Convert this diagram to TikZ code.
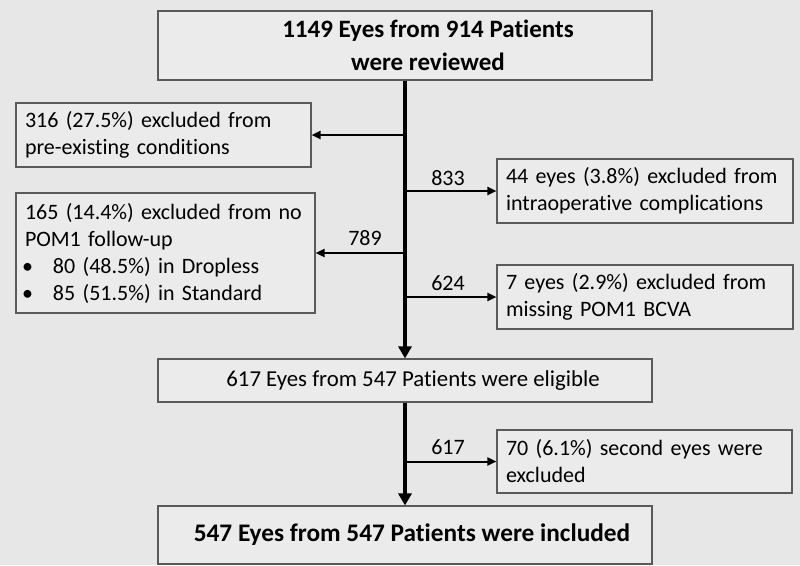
\documentclass[tikz,border=0pt]{standalone}
\usepackage{fontspec}
\setmainfont{Carlito}[Ligatures=NoCommon]
\usetikzlibrary{arrows.meta}
\definecolor{bgc}{RGB}{231,231,231}
\definecolor{boxc}{RGB}{235,235,235}
\definecolor{edgec}{RGB}{90,90,90}
\newcommand{\bul}[1]{\hspace*{-3pt}\makebox[31pt][l]{\textbullet}#1}
\tikzset{
  box/.style={draw=edgec, line width=1.1pt, fill=boxc, rectangle, inner ysep=0pt, inner xsep=9pt},
  lbox/.style={box, align=left, font=\fontsize{22}{27}\selectfont},
  cbox/.style={box, align=center},
  trunk/.style={line width=4pt, -{Triangle[width=13pt,length=12pt]}},
  branch/.style={line width=2pt, -{Triangle[width=8pt,length=9pt]}},
  num/.style={font=\fontsize{22}{24}\selectfont, inner sep=0pt},
}
\begin{document}
\begin{tikzpicture}[x=1pt,y=-1pt]
\fill[bgc] (0,0) rectangle (800,565);
\useasboundingbox (0,0) rectangle (800,565);
% boxes
\node[cbox, minimum width=494pt, minimum height=69pt, font=\bfseries\fontsize{25}{33}\selectfont] (top) at (405,45.5) {\hspace*{46pt}1149 Eyes from 914 Patients\\\hspace*{46pt}were reviewed};
\node[lbox, minimum width=295pt, minimum height=64pt, text width=277pt] (b316) at (163.5,135) {\mbox{316 (27.5\%) excluded from}\\\mbox{pre-existing conditions}};
\node[lbox, minimum width=299pt, minimum height=120pt, text width=281pt] (b165) at (165.5,253) {\mbox{165 (14.4\%) excluded from no}\\\mbox{POM1 follow-up}\\\bul{80 (48.5\%) in Dropless}\\\bul{85 (51.5\%) in Standard}};
\node[lbox, minimum width=296pt, minimum height=64pt, text width=278pt] (b44) at (645,191) {\mbox{44 eyes (3.8\%) excluded from}\\\mbox{intraoperative complications}};
\node[lbox, minimum width=296pt, minimum height=64pt, text width=278pt] (b7) at (645,297) {\mbox{7 eyes (2.9\%) excluded from}\\\mbox{missing POM1 BCVA}};
\node[cbox, minimum width=494pt, minimum height=43pt, font=\fontsize{22.8}{24}\selectfont] (b617) at (405,380.5) {\hspace*{16pt}617 Eyes from 547 Patients were eligible};
\node[lbox, minimum width=295pt, minimum height=63pt, text width=277pt] (b70) at (644.5,461.5) {\mbox{70 (6.1\%) second eyes were}\\\mbox{excluded}};
\node[cbox, minimum width=494pt, minimum height=58pt, font=\bfseries\fontsize{25.3}{28}\selectfont] (bot) at (405,535) {\hspace*{14pt}547 Eyes from 547 Patients were included};
% trunk
\draw[trunk] (top.south) -- (b617.north);
\draw[trunk] (b617.south) -- (bot.north);
% branches
\draw[branch] (b316.east -| top.south) -- (b316.east);
\draw[branch] (b165.east -| top.south) -- (b165.east);
\draw[branch] (b44.west -| top.south) -- (b44.west);
\draw[branch] (b7.west -| top.south) -- (b7.west);
\draw[branch] (b70.west -| top.south) -- (b70.west);
% labels
\node[num] (n833) at (448,178) {833};
\node[num] (n789) at (365,238) {789};
\node[num] (n624) at (448,283) {624};
\node[num] (n617) at (448,447) {617};
\end{tikzpicture}
\end{document}
